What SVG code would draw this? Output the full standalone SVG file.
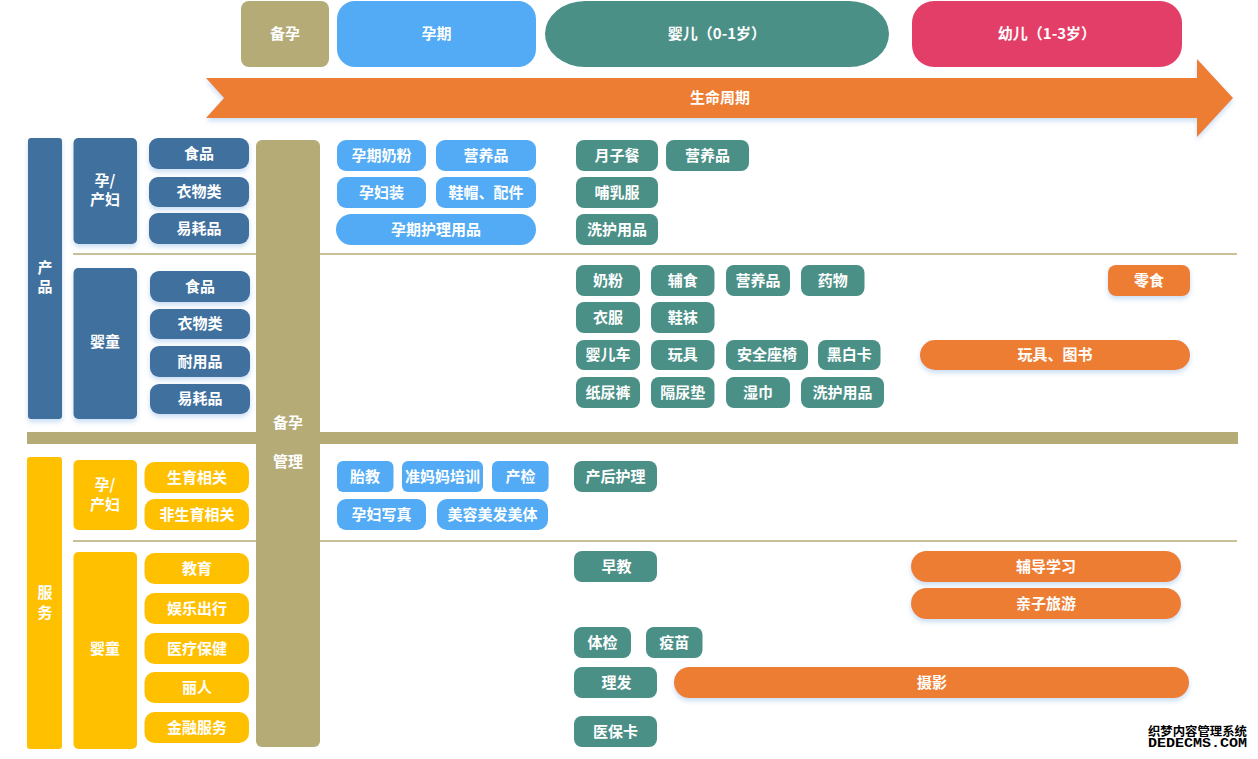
<svg xmlns="http://www.w3.org/2000/svg" width="1258" height="759" viewBox="0 0 1258 759">
<defs>
<filter id="sh" x="-10%" y="-20%" width="120%" height="160%">
<feDropShadow dx="0" dy="3" stdDeviation="2.5" flood-color="#9fc3e8" flood-opacity="0.55"/>
</filter>
<style>
text{font-family:"Noto Sans CJK SC","Liberation Sans",sans-serif;font-weight:bold;font-size:15px;fill:#fff;text-anchor:middle;dominant-baseline:central;transform:translateY(-1.5px)}
.tan{fill:#b5ab76}
.lb{fill:#52abf4}
.tl{fill:#4b9087}
.pk{fill:#e33e68}
.or{fill:#ed7d31}
.db{fill:#41709e}
.gd{fill:#ffc000}
.sep{stroke:#b5ab76;stroke-width:1.5;fill:none}
.wm{fill:#000;stroke:#fff;stroke-width:2;paint-order:stroke;font-size:12px;text-anchor:start}
</style>
</defs>
<rect width="1258" height="759" fill="#fff"/>

<!-- timeline header -->
<g id="h-beiyun"><rect class="tan" x="241" y="1" width="88" height="66" rx="8"/><text x="285" y="34">备孕</text></g>
<g id="h-yunqi"><rect class="lb" x="337" y="1" width="199" height="66" rx="18"/><text x="436.5" y="34">孕期</text></g>
<g id="h-yinger"><rect class="tl" x="545" y="1" width="344" height="66" rx="40" ry="33"/><text x="717" y="34">婴儿（0-1岁）</text></g>
<g id="h-youer"><rect class="pk" x="912" y="1" width="270" height="66" rx="22"/><text x="1047" y="34">幼儿（1-3岁）</text></g>
<g id="lifecycle"><polygon class="or" filter="url(#sh)" points="206,78 1197,78 1197,59 1233,98 1197,137 1197,118 206,118 224,98"/><text x="720" y="98">生命周期</text></g>

<!-- structure: bands and separators -->
<g id="connectors">
<rect class="tan" x="27" y="432" width="1211" height="12"/>
<line class="sep" x1="73" y1="254" x2="1237" y2="254"/>
<line class="sep" x1="73" y1="541" x2="1237" y2="541"/>
</g>

<!-- 备孕管理 column -->
<g id="beiyun-guanli"><rect class="tan" x="256" y="140" width="64" height="607" rx="6"/><text x="288" y="423">备孕</text><text x="288" y="462">管理</text></g>

<!-- products -->
<g id="chanpin"><rect class="db" filter="url(#sh)" x="28" y="138" width="34" height="281" rx="3"/><text x="45" y="268">产</text><text x="45" y="287">品</text></g>
<g id="p-yunchanfu"><rect class="db" filter="url(#sh)" x="73.5" y="138" width="63.5" height="106" rx="5"/><text x="105" y="181">孕/</text><text x="105" y="200">产妇</text></g>
<g id="p-m-shipin"><rect class="db" filter="url(#sh)" x="149" y="138" width="100" height="31" rx="9"/><text x="199" y="153.5">食品</text></g>
<g id="p-m-yiwu"><rect class="db" filter="url(#sh)" x="149" y="177" width="100" height="30" rx="9"/><text x="199" y="192">衣物类</text></g>
<g id="p-m-yihao"><rect class="db" filter="url(#sh)" x="149" y="213" width="100" height="31" rx="9"/><text x="199" y="228.5">易耗品</text></g>
<g id="p-yingtong"><rect class="db" filter="url(#sh)" x="73.5" y="268" width="63.5" height="151" rx="5"/><text x="105" y="342">婴童</text></g>
<g id="p-b-shipin"><rect class="db" filter="url(#sh)" x="150" y="271" width="100" height="31" rx="9"/><text x="200" y="286.5">食品</text></g>
<g id="p-b-yiwu"><rect class="db" filter="url(#sh)" x="150" y="309" width="100" height="30" rx="9"/><text x="200" y="324">衣物类</text></g>
<g id="p-b-naiyong"><rect class="db" filter="url(#sh)" x="150" y="346" width="100" height="31" rx="9"/><text x="200" y="361.5">耐用品</text></g>
<g id="p-b-yihao"><rect class="db" filter="url(#sh)" x="150" y="384" width="100" height="30" rx="9"/><text x="200" y="399">易耗品</text></g>

<!-- services -->
<g id="fuwu"><rect class="gd" x="27" y="457" width="35" height="292" rx="3"/><text x="45" y="593">服</text><text x="45" y="613">务</text></g>
<g id="s-yunchanfu"><rect class="gd" x="73.5" y="460" width="63.5" height="70" rx="5"/><text x="105" y="485">孕/</text><text x="105" y="505">产妇</text></g>
<g id="s-shengyu"><rect class="gd" x="144.5" y="462" width="104.5" height="31" rx="10"/><text x="197" y="477.5">生育相关</text></g>
<g id="s-feishengyu"><rect class="gd" x="144.5" y="499" width="104.5" height="31" rx="10"/><text x="197" y="514.5">非生育相关</text></g>
<g id="s-yingtong"><rect class="gd" x="73.5" y="552" width="63.5" height="197" rx="5"/><text x="105" y="649">婴童</text></g>
<g id="s-jiaoyu"><rect class="gd" x="144.5" y="553" width="104.5" height="31" rx="10"/><text x="197" y="568.5">教育</text></g>
<g id="s-yule"><rect class="gd" x="144.5" y="593" width="104.5" height="31" rx="10"/><text x="197" y="608.5">娱乐出行</text></g>
<g id="s-yiliao"><rect class="gd" x="144.5" y="633" width="104.5" height="31" rx="10"/><text x="197" y="648.5">医疗保健</text></g>
<g id="s-liren"><rect class="gd" x="144.5" y="672" width="104.5" height="31" rx="10"/><text x="197" y="687.5">丽人</text></g>
<g id="s-jinrong"><rect class="gd" x="144.5" y="712" width="104.5" height="31" rx="10"/><text x="197" y="727.5">金融服务</text></g>

<!-- pregnancy items -->
<g id="q-naifen"><rect class="lb" x="337" y="140" width="89" height="31" rx="9"/><text x="381.5" y="155.5">孕期奶粉</text></g>
<g id="q-yingyang"><rect class="lb" x="436" y="140" width="100" height="31" rx="9"/><text x="486" y="155.5">营养品</text></g>
<g id="q-yunfuzhuang"><rect class="lb" x="337" y="177" width="89" height="31" rx="9"/><text x="381.5" y="192.5">孕妇装</text></g>
<g id="q-xiemao"><rect class="lb" x="436" y="177" width="100" height="31" rx="9"/><text x="486" y="192.5">鞋帽、配件</text></g>
<g id="q-huli"><rect class="lb" x="336" y="214" width="200" height="31" rx="15.5"/><text x="436" y="229.5">孕期护理用品</text></g>
<g id="q-taijiao"><rect class="lb" x="337" y="461" width="56.5" height="31" rx="6"/><text x="365" y="476.5">胎教</text></g>
<g id="q-zhunmama"><rect class="lb" x="402" y="461" width="81" height="31" rx="6"/><text x="442.5" y="476.5">准妈妈培训</text></g>
<g id="q-chanjian"><rect class="lb" x="492" y="461" width="56.6" height="31" rx="6"/><text x="520.5" y="476.5">产检</text></g>
<g id="q-xiezhen"><rect class="lb" x="337" y="499" width="89" height="31" rx="9"/><text x="381.5" y="514.5">孕妇写真</text></g>
<g id="q-meirong"><rect class="lb" x="437" y="499" width="111" height="31" rx="10"/><text x="492.5" y="514.5">美容美发美体</text></g>

<!-- infant items -->
<g id="i-yuezican"><rect class="tl" x="576" y="140" width="82" height="31" rx="8"/><text x="617" y="155.5">月子餐</text></g>
<g id="i-yingyang1"><rect class="tl" x="666" y="140" width="83" height="31" rx="8"/><text x="707.5" y="155.5">营养品</text></g>
<g id="i-buru"><rect class="tl" x="576" y="177" width="82" height="31" rx="8"/><text x="617" y="192.5">哺乳服</text></g>
<g id="i-xihu1"><rect class="tl" x="576" y="214" width="82" height="31" rx="8"/><text x="617" y="229.5">洗护用品</text></g>
<g id="i-naifen"><rect class="tl" x="576" y="265" width="64" height="31" rx="8"/><text x="608" y="280.5">奶粉</text></g>
<g id="i-fushi"><rect class="tl" x="651" y="265" width="63.5" height="31" rx="8"/><text x="682.7" y="280.5">辅食</text></g>
<g id="i-yingyang2"><rect class="tl" x="726" y="265" width="64" height="31" rx="8"/><text x="758" y="280.5">营养品</text></g>
<g id="i-yaowu"><rect class="tl" x="801" y="265" width="63.5" height="31" rx="8"/><text x="832.7" y="280.5">药物</text></g>
<g id="i-yifu"><rect class="tl" x="576" y="302" width="64" height="31" rx="8"/><text x="608" y="317.5">衣服</text></g>
<g id="i-xiewa"><rect class="tl" x="651" y="302" width="63.5" height="31" rx="8"/><text x="682.7" y="317.5">鞋袜</text></g>
<g id="i-yingerche"><rect class="tl" x="576" y="340" width="64" height="30" rx="8"/><text x="608" y="355">婴儿车</text></g>
<g id="i-wanju"><rect class="tl" x="651" y="340" width="63.5" height="30" rx="8"/><text x="682.7" y="355">玩具</text></g>
<g id="i-zuoyi"><rect class="tl" x="726" y="340" width="82" height="30" rx="8"/><text x="767" y="355">安全座椅</text></g>
<g id="i-heibaika"><rect class="tl" x="818" y="340" width="62.5" height="30" rx="8"/><text x="849.2" y="355">黑白卡</text></g>
<g id="i-zhiniaoku"><rect class="tl" x="576" y="377" width="64" height="31" rx="8"/><text x="608" y="392.5">纸尿裤</text></g>
<g id="i-geniaodian"><rect class="tl" x="651" y="377" width="63.5" height="31" rx="8"/><text x="682.7" y="392.5">隔尿垫</text></g>
<g id="i-shijin"><rect class="tl" x="726" y="377" width="64" height="31" rx="8"/><text x="758" y="392.5">湿巾</text></g>
<g id="i-xihu2"><rect class="tl" x="801" y="377" width="83" height="31" rx="8"/><text x="842.5" y="392.5">洗护用品</text></g>
<g id="i-chanhou"><rect class="tl" x="574" y="461" width="83" height="31" rx="8"/><text x="615.5" y="476.5">产后护理</text></g>
<g id="i-zaojiao"><rect class="tl" x="574" y="551" width="83" height="31" rx="8"/><text x="616.5" y="566.5">早教</text></g>
<g id="i-tijian"><rect class="tl" x="574" y="627" width="57" height="31" rx="8"/><text x="602.5" y="642.5">体检</text></g>
<g id="i-yimiao"><rect class="tl" x="646" y="627" width="56.5" height="31" rx="8"/><text x="674.2" y="642.5">疫苗</text></g>
<g id="i-lifa"><rect class="tl" x="574" y="667" width="83" height="31" rx="8"/><text x="616.5" y="682.5">理发</text></g>
<g id="i-yibaoka"><rect class="tl" x="574" y="716" width="83" height="31" rx="8"/><text x="615.5" y="731.5">医保卡</text></g>

<!-- toddler items -->
<g id="t-lingshi"><rect class="or" filter="url(#sh)" x="1108" y="265" width="82" height="31" rx="8"/><text x="1149" y="280.5">零食</text></g>
<g id="t-wanju"><rect class="or" filter="url(#sh)" x="920" y="340" width="270" height="30" rx="15"/><text x="1055" y="355">玩具、图书</text></g>
<g id="t-fudao"><rect class="or" filter="url(#sh)" x="911" y="551" width="270" height="31" rx="15.5"/><text x="1046" y="566.5">辅导学习</text></g>
<g id="t-qinzi"><rect class="or" filter="url(#sh)" x="911" y="588" width="270" height="31" rx="15.5"/><text x="1046" y="603.5">亲子旅游</text></g>
<g id="t-sheying"><rect class="or" filter="url(#sh)" x="674" y="667" width="515" height="31" rx="15.5"/><text x="932" y="682.5">摄影</text></g>

<!-- watermark -->
<g id="watermark">
<text class="wm" x="1148" y="732" textLength="99" lengthAdjust="spacingAndGlyphs">织梦内容管理系统</text>
<text class="wm" x="1148" y="745" textLength="99" lengthAdjust="spacingAndGlyphs" style="font-family:'Liberation Mono',monospace">DEDECMS.COM</text>
</g>
</svg>
